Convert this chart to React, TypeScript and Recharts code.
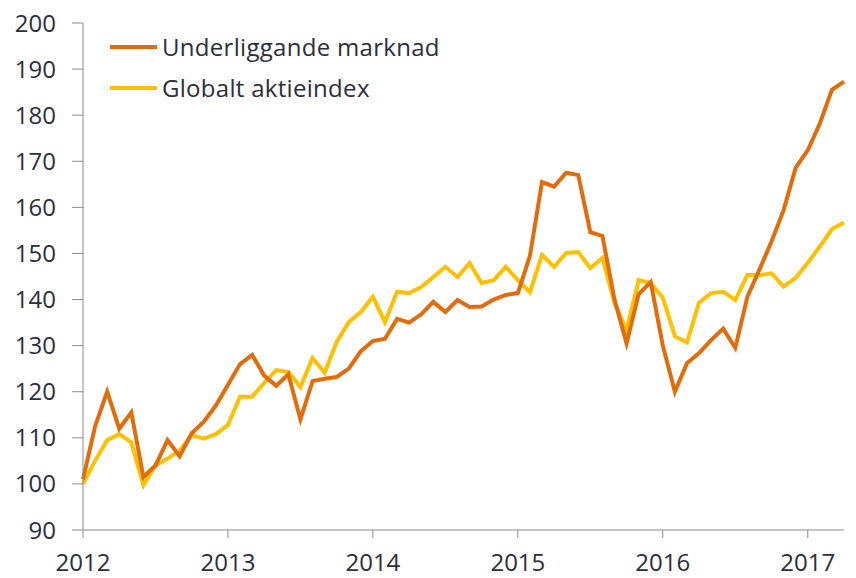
import { LineChart, Line, XAxis, YAxis } from 'recharts'

// monthly index, Jan 2012 .. Apr 2017
const years = ['2012', '2013', '2014', '2015', '2016', '2017']
const yTicks = [90, 100, 110, 120, 130, 140, 150, 160, 170, 180, 190, 200]

const underliggande = [
  101, 112.5, 120, 112, 115.5, 101.5, 104, 109.5, 106, 111, 113.5, 117,
  121.5, 126, 128, 123.5, 121.3, 123.8, 114, 122.3, 122.8, 123.2, 125, 128.8,
  131, 131.5, 135.8, 135, 136.8, 139.5, 137.3, 139.9, 138.4, 138.5, 140, 141,
  141.4, 149.5, 165.5, 164.5, 167.5, 167, 154.6, 153.8, 140, 130.5, 141.2, 143.8,
  130, 120, 126.2, 128.4, 131.2, 133.7, 129.5, 140.6, 146.5, 152.6, 159.4, 168.6,
  172.4, 178.2, 185.5, 187.3,
]

const globalt = [
  100, 105, 109.5, 110.8, 109, 99.7, 104, 105.5, 107.2, 110.6, 109.8, 110.8,
  112.8, 118.9, 118.9, 121.9, 124.7, 124.3, 121, 127.3, 124.1, 130.8, 135.1, 137.3,
  140.6, 135.1, 141.7, 141.4, 142.7, 144.9, 147.1, 144.9, 147.9, 143.6, 144.2, 147.1,
  144.2, 141.6, 149.7, 147.1, 150.1, 150.3, 146.8, 149, 139.3, 133.4, 144.2, 143.6,
  140.4, 132, 130.7, 139.3, 141.4, 141.7, 139.9, 145.3, 145.3, 145.7, 142.8, 144.7,
  148, 151.5, 155.3, 156.7,
]

const data = underliggande.map((v, i) => ({ m: i, u: v, g: globalt[i] }))

const ORANGE = '#E36C0A'
const YELLOW = '#FFC000'
const AXIS = '#8c8c8c'
const TEXT = '#2d2d3c'
const FONT = '"Open Sans", sans-serif'

const legendItems = [
  { label: 'Underliggande marknad', color: ORANGE },
  { label: 'Globalt aktieindex', color: YELLOW },
]

function LegendBox() {
  return (
    <div
      style={{
        position: 'absolute',
        left: 110,
        top: 26,
        fontFamily: FONT,
        fontSize: 24,
        letterSpacing: 0.3,
        color: TEXT,
      }}
    >
      {legendItems.map((it) => (
        <div key={it.label} style={{ display: 'flex', alignItems: 'center', height: 41 }}>
          <span
            style={{ display: 'inline-block', width: 47, height: 4, background: it.color, marginRight: 5 }}
          />
          <span>{it.label}</span>
        </div>
      ))}
    </div>
  )
}

export default function App() {
  return (
    <div style={{ position: 'relative', width: 856, height: 578, background: '#fff' }}>
      <style>{`body{margin:0}`}</style>
      <LineChart width={856} height={578} data={data} margin={{ top: 23, right: 12, bottom: 0, left: 0 }}>
        <XAxis
          dataKey="m"
          type="number"
          domain={[0, 63]}
          ticks={[0, 12, 24, 36, 48, 60]}
          tickFormatter={(v) => years[v / 12]}
          height={48}
          stroke={AXIS}
          tickSize={8}
          tickMargin={16}
          tick={{ fontSize: 24, fill: TEXT, fontFamily: FONT }}
          interval={0}
        />
        <YAxis
          domain={[90, 200]}
          ticks={yTicks}
          width={83}
          stroke={AXIS}
          tickSize={11}
          tickMargin={16}
          tick={{ fontSize: 24, fill: TEXT, fontFamily: FONT }}
          interval={0}
        />
        <Line
          type="linear"
          dataKey="g"
          stroke={YELLOW}
          strokeWidth={4}
          dot={false}
          isAnimationActive={false}
        />
        <Line
          type="linear"
          dataKey="u"
          stroke={ORANGE}
          strokeWidth={4}
          dot={false}
          isAnimationActive={false}
        />
      </LineChart>
      <LegendBox />
    </div>
  )
}
